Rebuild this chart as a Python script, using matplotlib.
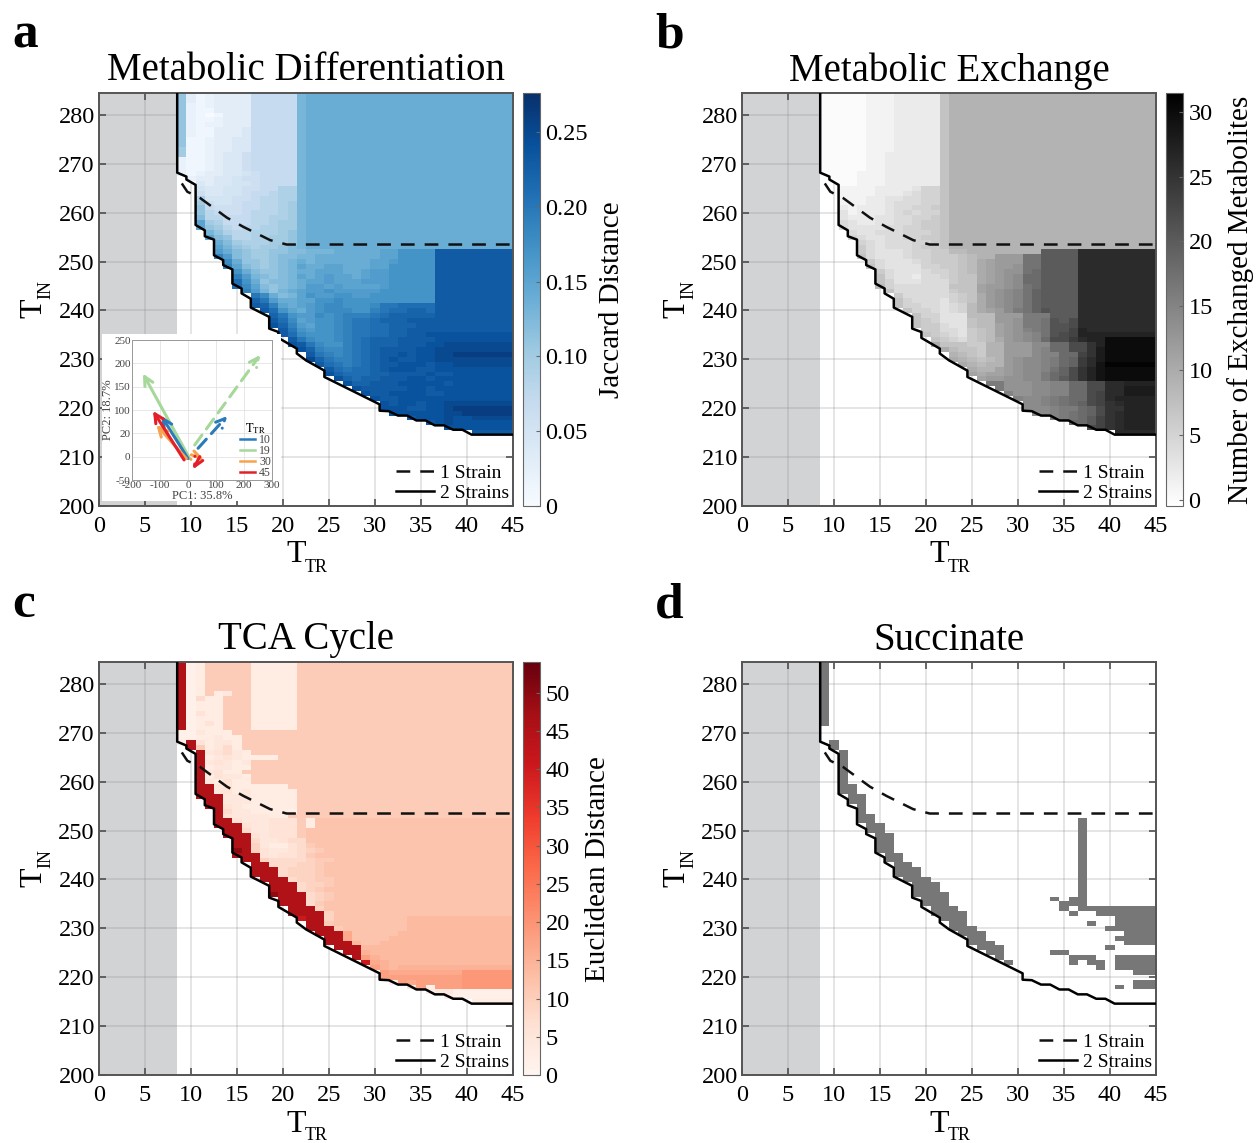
import numpy as np
import matplotlib
matplotlib.use('Agg')
import matplotlib.pyplot as plt

plt.rcParams['font.family'] = ['Liberation Serif', 'DejaVu Serif']
plt.rcParams['mathtext.fontset'] = 'stix'
plt.rcParams['axes.unicode_minus'] = False

# grid of the heatmaps
T_TR = np.arange(9, 46)
T_IN = np.arange(284, 214, -1)

# boundary lines
two_x = [8.5, 8.5, 9.5, 9.5, 10.5, 10.5, 11.5, 11.5, 12.5, 12.5, 13.5, 13.5, 14.5, 14.5, 15.5, 15.5, 16.5, 16.5,
         18.5, 18.5, 19.5, 19.5, 21.5, 21.5, 22.5, 24.5, 24.5, 30.5, 30.5, 31.5, 32.5, 33.5, 34.5, 35.5, 36.5,
         37.5, 38.5, 39.5, 40.5, 45]
two_y = [284.5, 268.2, 267.4, 266.8, 265.7, 257.5, 256.4, 255.2, 254.5, 251.3, 250.3, 249.3, 248.4, 245.5, 244.5,
         243.5, 242.4, 240.6, 238.7, 236.3, 235.6, 234.4, 232.2, 231.2, 229.8, 227.7, 226.4, 220.8, 219.5, 219.4,
         218.5, 218.5, 217.5, 217.5, 216.5, 216.5, 215.6, 215.6, 214.6, 214.6]
one_x = [9.0, 9.6, 11.0, 13.9, 15.7, 18.6, 20.4, 45]
one_y = [266.0, 264.3, 263.0, 259.0, 257.1, 254.4, 253.5, 253.5]

# Each row is one T_IN, first char is T_TR=9, blocks of ten, last char repeats up to T_TR=45. '.' is no cell.
# jaccard distance in hundredths
jaccard = [
    'b312333377 777de', 'b312333377 777de', 'b212333377 777de', 'b211333377 777de', 'b210133377 777de',
    'b211233377 777de', 'b212233377 777de', 'b211333477 777de', 'b211333477 777de', 'b112334477 777de',
    'b112334477 777de', 'a112334477 777de', 'a112344677 777de', '2112344677 777de', '2112344677 777de',
    '2112344677 777de', '2123344567 777de', '.233445667 777de', '..43445567 777de', '..54455667 799de',
    '..64455677 899de', '..95556678 899de', '..a6556778 89ade', '..b7666778 89ade', '..b8766788 89ade',
    '..c8877788 99ade', '..fa977788 9aade', '..fba87889 9aade', '...db98899 9abde', '...fcb8899 aabde',
    '....eca999 aabde', '....fdba9a abcde',
    '....gecbaa bbccdddeee eeffhhhhnn n',
    '....jgcbaa bccddeeeee eeffhhhhnn n',
    '.....iebba bcdedeeeee effghhhhnn n',
    '.....jfcba bcdfeeffee effhhhhhnn n',
    '......hecb bcdeefffee fgghhhhhnn n',
    '......jgdc bcdfefgffe fgghhhhhnn n',
    '......lheb ccdeffgfff ggghhhhhnn n',
    '......lifc bcdeggfgff ffghhhhhnn n',
    '.......jgd bdefgghggg gghhhhhhnn n',
    '........ki ecdfhgghhg ghhhhhhhnn n',
    '........mk geeffhhihh hhhhhhhhnn n',
    '........nm jfefghiihh hikkllllnn n',
    '.........n lhfeghiiih hjkllmmlnn n',
    '.......... mkhggihijj jklmmmmmnn n',
    '.......... nlifghhijk klmmmnnnnn n',
    '.......... omjgfhhijk kllmmmnnnn n',
    '.......... .nkhghhijk kllmmnnnnn n',
    '.......... .nlihhhijk kllmmnnooo o',
    '.......... ..nkihhijk lmmmnnnnoo o',
    '.......... ..onkihhjk lmmmnnnoop p',
    '.......... ...omjiijk lmnnnnoopp p',
    '.......... ....nkjijk lmnnonoopp q',
    '.......... ....pmkjjk lmnonnoopp p',
    '.......... .....nlkjk lmnnooonoo p',
    '.......... ......nlkl lmnooonnoo o',
    '.......... ......omll lmmnnnnonn o',
    '.......... .......oml mmnnnoonoo o',
    '.......... ........om mnnnooooon o',
    '.......... .........o nnnnnoonoo o',
    '.......... .......... onnoooonno o',
    '.......... .......... .onnoooooo o',
    '.......... .......... ..onoonoop p',
    '.......... .......... ..ooonnoop q',
    '.......... .......... ...oooooop pqq',
    '.......... .......... .....nooop oopp',
    '.......... .......... .......nop oooo',
    '.......... .......... .........o ooo',
    '.......... .......... .......... ..n',
]

# number of exchanged metabolites
exchanged = [
    '0000011122 22279', '0000011122 22279', '0000011122 22279', '0000011122 22279', '0000011122 22279',
    '0000011122 22279', '0000011122 22279', '0000011122 22279', '0000011122 22279', '0000011122 22279',
    '0000011122 22279', '0000011122 22279', '0000011222 22279', '0000011222 22279', '0000011222 22279',
    '0000011222 22279', '0000111222 22279', '.000111222 22279', '..00111222 22279', '..11112222 35579',
    '..11112223 45579', '..11122334 45579', '..11122344 45579', '..21222344 55679', '..31222345 45579',
    '..32223344 55679', '..43223344 56679', '..43333445 56679', '...4334445 55679', '...5433445 56679',
    '....543444 55679', '....643444 56679',
    '....643334 5566889999 9999kkkkqq q',
    '....743334 556667899c cchhkkkkqq q',
    '.....64333 4566678abc cchhkkkkqq q',
    '.....74333 3556678abc cdhhkkkkqq q',
    '......6433 3455678abc ddhikkkkqq q',
    '......7433 2445677abc deiikkkkqq q',
    '......7533 3444677abc deiikkkkqq q',
    '......8544 4444777bcc dehikkkkqq q',
    '.......744 4444677bcd efhjkkkkqq q',
    '........64 4444567acd efhjkkkkqq q',
    '........75 4443567acd efhjkkkkqq q',
    '........75 5443458acd efhjkkkkqq q',
    '.........7 5543458abc eghjlkkkqq q',
    '.......... 755333888c ccgggkkkqq q',
    '.......... 765333788c cdgghlkmqq q',
    '.......... 766433788b cdgghllmqq q',
    '.......... .66443678b cdfghllnrq q',
    '.......... .76543678b cdefhlmnrr r',
    '.......... ..7654678a cdefimmoqr ru',
    '.......... ..a7776699 ccceeiimmp ru',
    '.......... ...a877699 cccefiimmp su',
    '.......... ....987699 ccceffiinp su',
    '.......... ....a98789 cdeefgijoq su',
    '.......... .....a9899 cdeefgijoq tv',
    '.......... ......a99b cdeefhjmpr tu',
    '.......... ......babb cdeegijmpr tu',
    '.......... .......bcc ddeegikmpr tu',
    '.......... ........gg dddeeffiim mqqr',
    '.......... .........g dddeeffiim mqqs',
    '.......... .......... fddeeffiim nqqs',
    '.......... .......... .feefghiim nqrr',
    '.......... .......... ..eefghijm npqr',
    '.......... .......... ..eeefggij mppr',
    '.......... .......... ...eefghij mpqr',
    '.......... .......... .....fghik npqr',
    '.......... .......... .......iik npqr',
    '.......... .......... .........m npqr',
    '.......... .......... .......... ..q',
]

# euclidean distance in steps of 1.5
euclid = [
    'u127777722 2227', 'u127777722 2227', 'u127777722 2227', 'u127777722 2227', 'u127777722 2227',
    'u127777722 2227', 'u127237722 2227', 'u152277722 2227', 'u122277722 2227', 'u122277722 2227',
    'u142277722 2227', 'u122277722 2227', 'u124277722 2227', 'u122277722 2227',
    '1132227777 7', '1122322777 7', '1u42332777 7', '.u72352777 7', '..u3453277 7', '..u2343222 277',
    '..u3432377 7', '..u2332277 7', '..u3422777 7', '..u2433277 7', '..u3242277 7', '..uu342222 227',
    '..uu342322 2227', '..uuu33322 2227', '...uu33322 2227', '...uu43222 2227', '....u53322 2217',
    '....u43333 2277',
    '....uu4333 44472 8', '....uuu433 444728', '.....uu533 44478', '.....uuu43 44478', '......uu53 34558',
    '......uu63 224578', '......xu64 3345678', '......uuu4 344578', '.......uu6 55556778', '........uu 5556678',
    '........uu u566678', '........uu u566678', '.........u uu566778',
    '.......... uuu5667 8', '.......... uuu56788', '.......... xuuu5678 8', '.......... .uuu5678 8',
    '.......... .uuu5788', '.......... ..uuu688', '.......... ..uuuu68 8', '.......... ...ruu6888 8888899999 9',
    '.......... ....uu7888 8888899999 9', '.......... ....uuu788 8888899999 9', '.......... .....uuub8 8888999999 9',
    '.......... ......uub8 8889999999 9', '.......... ......uuu9 8899999999 9', '.......... .......uuu 9',
    '.......... ........uu a9',
    '.......... .........u ca9', '.......... .......... rba9', '.......... .......... .ca9a',
    '.......... .......... ..cbbbbbbb bd', '.......... .......... ..cccccccc cd',
    '.......... .......... ...1cbcccc cd', '.......... .......... .....3c1cc cd',
    '.......... .......... .......233 1', '.......... .......... .........2 1',
    '.......... .......... .......... ..2',
]

# succinate cells: diagonal band per column (T_TR, lowest T_IN, highest T_IN)
succ_cols = [(9, 272, 284), (10, 267, 268), (11, 258, 266), (12, 256, 259), (13, 252, 257), (14, 250, 253),
             (15, 246, 251), (16, 244, 249), (17, 241, 245), (18, 240, 243), (19, 237, 242), (20, 235, 240),
             (21, 233, 239), (22, 232, 237), (23, 230, 234), (24, 229, 233), (25, 227, 230), (26, 226, 229),
             (27, 225, 227), (28, 224, 226), (29, 223, 223), (37, 234, 252)]
# right hand patches per row (T_IN, first T_TR, last T_TR)
succ_rows = [(236, 34, 34), (236, 36, 36), (235, 35, 36), (234, 35, 35), (234, 38, 45), (233, 36, 36), (233, 39, 45),
             (232, 41, 45), (231, 38, 38), (231, 41, 45), (230, 40, 45), (229, 42, 45), (228, 41, 45), (227, 42, 45),
             (226, 40, 40), (225, 34, 35), (224, 36, 38), (224, 41, 45), (223, 36, 36), (223, 38, 39), (223, 41, 45),
             (222, 39, 39), (222, 41, 45), (221, 43, 45), (219, 43, 45), (218, 41, 41), (218, 43, 45)]

# inset PCA arrows: start x, start y, end x, end y
pc_colors = {'10': '#2b7bba', '19': '#a6d89a', '30': '#f7a24f', '45': '#e3202a'}
pc_solid = {'19': [6, -4, -161, 178], '10': [0, -4, -95, 87], '30': [-6, -4, -113, 68], '45': [-14, -7, -125, 98]}
pc_dashed = {'19': [24, 25, 258, 218], '10': [36, 18, 140, 87], '30': [12, 4, 57, -6], '45': [42, 0, 18, -27]}

W, H = 1259, 1143


def px_axes(x0, y0, x1, y1, **kw):
    return fig.add_axes([x0 / W, 1 - y1 / H, (x1 - x0) / W, (y1 - y0) / H], **kw)


def px_text(x, y, s, **kw):
    fig.text(x / W, 1 - y / H, s, ha='center', va='center', **kw)


def decode(rows, scale=1.0):
    out = []
    for r in rows:
        r = r.replace(' ', '')
        r = r.ljust(len(T_TR), r[-1])[:len(T_TR)]
        out.append([np.nan if c == '.' else int(c, 36) * scale for c in r])
    return np.array(out)


def succinate():
    grid = np.full((len(T_IN), len(T_TR)), np.nan)
    for col, lo, hi in succ_cols:
        grid[(T_IN >= lo) & (T_IN <= hi), col - 9] = 1
    for row, lo, hi in succ_rows:
        grid[284 - row, lo - 9:hi - 8] = 1
    return grid


def panel(x0, y0, data, cmap, vmin, vmax, title, letter):
    ax = px_axes(x0, y0, x0 + 414, y0 + 413)
    ax.set_xlim(0, 45)
    ax.set_ylim(200, 284.5)
    ax.axvspan(0, 8.5, color='#d1d3d4', zorder=0, lw=0)
    ax.set_axisbelow(True)
    ax.grid(True, color='#888888', alpha=0.28, lw=1.1)
    mesh = ax.pcolormesh(np.arange(8.5, 46), np.arange(284.5, 214, -1), data, cmap=cmap, vmin=vmin, vmax=vmax,
                         zorder=1.5, rasterized=True)
    ax.plot(one_x, one_y, color='#111111', lw=1.8, dashes=(5.5, 4), label='1 Strain', zorder=3)
    ax.plot(two_x, two_y, color='black', lw=1.8, label='2 Strains', zorder=3)
    ax.set_xticks(range(0, 46, 5))
    ax.set_yticks(range(200, 281, 10))
    ax.tick_params(direction='in', length=5, width=1.1, color='#444444', top=True, right=True, labelsize=17.5)
    ax.tick_params(axis='x', pad=7)
    ax.tick_params(axis='y', pad=3)
    for s in ax.spines.values():
        s.set_color('#555555')
        s.set_linewidth(1.4)
    # axis names, the subscripts are much smaller than the T
    px_text(x0 + 197, y0 + 462, 'T', fontsize=23)
    px_text(x0 + 217, y0 + 474, 'TR', fontsize=13)
    px_text(x0 - 65, y0 + 215, 'T', fontsize=23, rotation=90)
    px_text(x0 - 53, y0 + 197, 'IN', fontsize=13, rotation=90)
    leg = ax.legend(loc='lower right', frameon=False, fontsize=14, handlelength=1.95, labelspacing=0.12,
                    handletextpad=0.3, borderaxespad=0.1, borderpad=0.1)
    leg.set_zorder(5)
    px_text(x0 + 207, y0 - 22, title, fontsize=28)
    fig.text((x0 - 87) / W, 1 - (y0 - 57) / H, letter, fontsize=37, fontweight='bold', ha='left', va='center')
    return ax, mesh


def add_cbar(mesh, x0, y0, ticks, labels, label, label_x):
    cax = px_axes(x0, y0, x0 + 17, y0 + 413)
    cb = fig.colorbar(mesh, cax=cax)
    cb.set_ticks(ticks, labels=labels)
    cb.ax.tick_params(direction='in', length=3, width=0.8, color='#666666', labelsize=17.5, pad=4)
    cb.outline.set_edgecolor('#666666')
    px_text(label_x, y0 + 207, label, rotation=90, fontsize=21)


fig = plt.figure(figsize=(W / 100, H / 100), dpi=100)

ax_a, m_a = panel(99, 93, decode(jaccard, 0.01), 'Blues', 0, 0.276, 'Metabolic Differentiation', 'a')
add_cbar(m_a, 523, 93, [0, .05, .10, .15, .20, .25], ['0', '0.05', '0.10', '0.15', '0.20', '0.25'],
         'Jaccard Distance', 612)

ax_b, m_b = panel(742, 93, decode(exchanged), 'gray_r', -0.5, 31.5, 'Metabolic Exchange', 'b')
add_cbar(m_b, 1166, 93, [0, 5, 10, 15, 20, 25, 30], ['0', '5', '10', '15', '20', '25', '30'],
         'Number of Exchanged Metabolites', 1241)

ax_c, m_c = panel(99, 662, decode(euclid, 1.5), 'Reds', 0, 54, 'TCA Cycle', 'c')
add_cbar(m_c, 523, 662, list(range(0, 51, 5)), [str(v) for v in range(0, 51, 5)], 'Euclidean Distance', 598)

panel(742, 662, succinate(), matplotlib.colors.ListedColormap(['#777777']), 0, 2, 'Succinate', 'd')

# inset of panel a
bg = px_axes(102, 334, 281, 501, facecolor='white')
bg.set_xticks([])
bg.set_yticks([])
for s in bg.spines.values():
    s.set_visible(False)

ins = px_axes(132, 340, 272, 480, facecolor='white')
ins.set_xlim(-200, 300)
ins.set_ylim(-50, 250)
ins.set_xticks([-200, -100, 0, 100, 200, 300])
ins.set_yticks([-50, 0, 50, 100, 150, 200, 250])
ins.set_yticklabels(['-50', '0', '20', '100', '150', '200', '250'])
ins.grid(True, color='#dddddd', lw=0.5)
ins.tick_params(length=0, labelsize=8, labelcolor='#444444', pad=1)
for s in ins.spines.values():
    s.set_color('#999999')
    s.set_linewidth(0.7)
for key, (x0, y0, x1, y1) in pc_solid.items():
    ins.annotate('', xy=(x1, y1), xytext=(x0, y0),
                 arrowprops=dict(arrowstyle='->', color=pc_colors[key], lw=2.2, mutation_scale=16, shrinkA=0, shrinkB=0))
for key, (x0, y0, x1, y1) in pc_dashed.items():
    ins.annotate('', xy=(x1, y1), xytext=(x0, y0),
                 arrowprops=dict(arrowstyle='->', color=pc_colors[key], lw=2.2, ls=(0, (4, 2.5)), mutation_scale=16,
                                 shrinkA=0, shrinkB=0))
for key in pc_colors:
    ins.plot([], [], color=pc_colors[key], lw=1.8, label=key)
ins.legend(loc='lower right', frameon=False, fontsize=8.5, title=r'$\mathrm{T_{TR}}$', title_fontsize=9,
           handlelength=1.3, labelspacing=-0.1, handletextpad=0.3, borderaxespad=0.0, borderpad=0.1, labelcolor='#444444')
ins.set_xlabel('PC1: 35.8%', fontsize=9, color='#444444', labelpad=0)
ins.set_ylabel('PC2: 18.7%', fontsize=9, color='#444444', labelpad=0)

plt.savefig('out.png', dpi=100)
